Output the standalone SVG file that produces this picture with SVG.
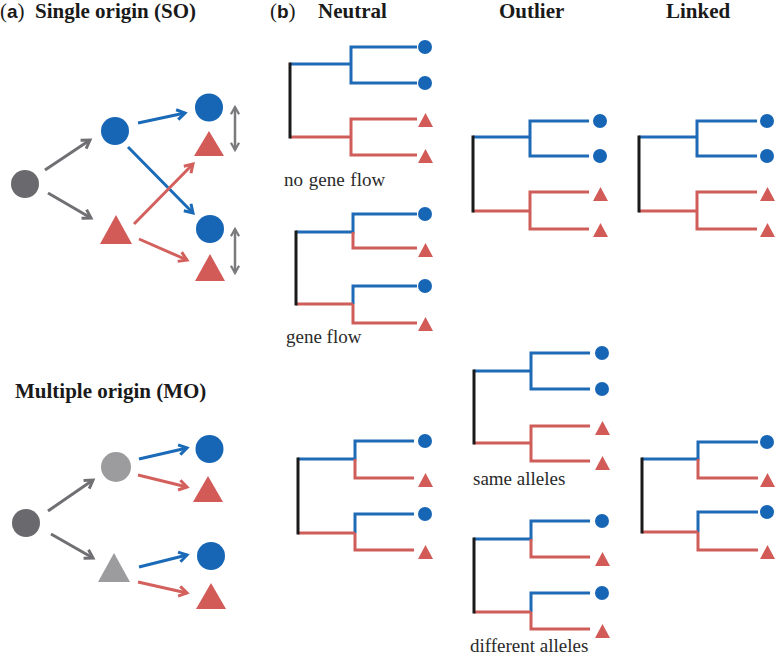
<svg xmlns="http://www.w3.org/2000/svg" width="778" height="657" viewBox="0 0 778 657">
<style>
.bl{fill:none;stroke:#1f6ab6;stroke-width:3;stroke-linejoin:miter}
.rd{fill:none;stroke:#cf5e5b;stroke-width:3;stroke-linejoin:miter}
.rt{fill:none;stroke:#1a1a1a;stroke-width:3}
.bc{fill:#1766b6}
.rtri{fill:#d25b58}
.dg{fill:#6a6a6e}
.lg{fill:#9c9c9f}
.ag{fill:none;stroke:#707074;stroke-width:3}
.ab{fill:none;stroke:#1a6ab8;stroke-width:3}
.ar{fill:none;stroke:#d3605c;stroke-width:3}
.dbl{fill:none;stroke:#7a7a7d;stroke-width:2.5}
</style>
<defs>
<marker id="mg" viewBox="0 0 10 10" refX="8" refY="5" markerWidth="10" markerHeight="10" markerUnits="userSpaceOnUse" orient="auto-start-reverse" overflow="visible"><path d="M0,0 L8,5 L0,10" fill="none" stroke="#707074" stroke-width="3"/></marker>
<marker id="md" viewBox="0 0 10 10" refX="8" refY="5" markerWidth="9" markerHeight="9" markerUnits="userSpaceOnUse" orient="auto-start-reverse" overflow="visible"><path d="M0,0.5 L8,5 L0,9.5" fill="none" stroke="#7a7a7d" stroke-width="2.5"/></marker>
<marker id="mb" viewBox="0 0 10 10" refX="8" refY="5" markerWidth="10" markerHeight="10" markerUnits="userSpaceOnUse" orient="auto" overflow="visible"><path d="M0,0 L8,5 L0,10" fill="none" stroke="#1a6ab8" stroke-width="3"/></marker>
<marker id="mr" viewBox="0 0 10 10" refX="8" refY="5" markerWidth="10" markerHeight="10" markerUnits="userSpaceOnUse" orient="auto" overflow="visible"><path d="M0,0 L8,5 L0,10" fill="none" stroke="#d3605c" stroke-width="3"/></marker>
</defs>
<rect width="778" height="657" fill="#ffffff"/>

<!-- headings -->
<g id="headings" fill="#1a1a1a">
<text x="0" y="18" font-size="21" font-family="Liberation Serif">(<tspan font-family="Liberation Sans" font-weight="bold" font-size="19">a</tspan>)</text>
<text x="35" y="18" font-size="21" font-weight="bold" font-family="Liberation Serif">Single origin (SO)</text>
<text x="270" y="18" font-size="21" font-family="Liberation Serif">(<tspan font-family="Liberation Sans" font-weight="bold" font-size="19">b</tspan>)</text>
<text x="318" y="18" font-size="21" font-weight="bold" font-family="Liberation Serif">Neutral</text>
<text x="499" y="18" font-size="21" font-weight="bold" font-family="Liberation Serif">Outlier</text>
<text x="666" y="18" font-size="21" font-weight="bold" font-family="Liberation Serif">Linked</text>
<text x="15" y="398" font-size="21" font-weight="bold" font-family="Liberation Serif">Multiple origin (MO)</text>
</g>

<!-- panel a: SO nodes -->
<g id="so-root"><circle class="dg" cx="25" cy="184" r="14"/></g>
<g id="so-blue"><circle class="bc" cx="115" cy="131" r="14"/></g>
<g id="so-red"><polygon class="rtri" points="116,215 132,244 100,244"/></g>
<g id="so-blue1"><circle class="bc" cx="209" cy="107.5" r="14"/></g>
<g id="so-red1"><polygon class="rtri" points="209,131 224,156 194,156"/></g>
<g id="so-blue2"><circle class="bc" cx="210" cy="229" r="14"/></g>
<g id="so-red2"><polygon class="rtri" points="210,254 225,281 195,281"/></g>

<!-- panel a: MO nodes -->
<g id="mo-root"><circle class="dg" cx="26" cy="523" r="14"/></g>
<g id="mo-gcirc"><circle class="lg" cx="116" cy="467" r="15"/></g>
<g id="mo-gtri"><polygon class="lg" points="114,553 130,582 98,582"/></g>
<g id="mo-blue1"><circle class="bc" cx="209.5" cy="449" r="14"/></g>
<g id="mo-red1"><polygon class="rtri" points="208,476 223,502 193,502"/></g>
<g id="mo-blue2"><circle class="bc" cx="211" cy="556" r="14"/></g>
<g id="mo-red2"><polygon class="rtri" points="211,583 226,609 196,609"/></g>

<!-- connectors -->
<g id="connectors">
<line class="ag" x1="45" y1="170" x2="90" y2="140" marker-end="url(#mg)"/>
<line class="ag" x1="48" y1="193" x2="91" y2="218" marker-end="url(#mg)"/>
<line class="ab" x1="138" y1="123" x2="185" y2="113" marker-end="url(#mb)"/>
<line class="ab" x1="128" y1="147" x2="193" y2="213" marker-end="url(#mb)"/>
<line class="ar" x1="134" y1="224" x2="193" y2="164" marker-end="url(#mr)"/>
<line class="ar" x1="139" y1="239" x2="187" y2="260" marker-end="url(#mr)"/>
<line class="dbl" x1="235" y1="107" x2="235" y2="150" marker-start="url(#md)" marker-end="url(#md)"/>
<line class="dbl" x1="235" y1="229" x2="235" y2="273" marker-start="url(#md)" marker-end="url(#md)"/>

<line class="ag" x1="48" y1="511" x2="93" y2="480" marker-end="url(#mg)"/>
<line class="ag" x1="51" y1="534" x2="93" y2="558" marker-end="url(#mg)"/>
<line class="ab" x1="139" y1="459" x2="187" y2="448" marker-end="url(#mb)"/>
<line class="ar" x1="138" y1="475" x2="187" y2="487" marker-end="url(#mr)"/>
<line class="ab" x1="139" y1="567" x2="187" y2="555" marker-end="url(#mb)"/>
<line class="ar" x1="138" y1="582" x2="187" y2="593" marker-end="url(#mr)"/>
</g>

<!-- Tree A: neutral, no gene flow -->
<g id="tree-neutral-nogeneflow">
<path class="bl" d="M417,47 H351 V83 H417 M351,64 H290"/>
<path class="rd" d="M417,119 H351 V155 H417 M351,137 H290"/>
<path class="rt" d="M290,62.5 V138.5"/>
<circle class="bc" cx="425" cy="47" r="7"/><circle class="bc" cx="425" cy="83" r="7"/>
<polygon class="rtri" points="425.5,113 433,127 418,127"/><polygon class="rtri" points="425.5,149 433,163 418,163"/>
<text x="284" y="186" font-size="19" word-spacing="1" fill="#2a2a2a" font-family="Liberation Serif">no gene flow</text>
</g>

<!-- Tree B: neutral, gene flow -->
<g id="tree-neutral-geneflow">
<path class="bl" d="M417,214 H353 V232 H296"/>
<path class="rd" d="M353,232 V248 H417"/>
<path class="bl" d="M417,286 H353 V304"/>
<path class="rd" d="M353,304 V323 H417 M353,304 H296"/>
<path class="rt" d="M296,230.5 V305.5"/>
<circle class="bc" cx="425" cy="214" r="7"/><circle class="bc" cx="425" cy="286" r="7"/>
<polygon class="rtri" points="425.5,243 433,257 418,257"/><polygon class="rtri" points="425.5,317 433,331 418,331"/>
<text x="286" y="343" font-size="19" fill="#2a2a2a" font-family="Liberation Serif">gene flow</text>
</g>

<!-- Tree C: outlier SO -->
<g id="tree-outlier-so">
<path class="bl" d="M589,121 H530 V156 H589 M530,137 H473"/>
<path class="rd" d="M589,192 H530 V229 H589 M530,211 H473"/>
<path class="rt" d="M473,135.5 V212.5"/>
<circle class="bc" cx="600" cy="121" r="7"/><circle class="bc" cx="600" cy="156" r="7"/>
<polygon class="rtri" points="600.5,187 608,201 593,201"/><polygon class="rtri" points="600.5,223 608,237 593,237"/>
</g>

<!-- Tree D: linked SO -->
<g id="tree-linked-so">
<path class="bl" d="M757,121 H697 V156 H757 M697,137 H639"/>
<path class="rd" d="M757,192 H697 V229 H757 M697,211 H639"/>
<path class="rt" d="M639,135.5 V212.5"/>
<circle class="bc" cx="767" cy="121" r="7"/><circle class="bc" cx="767" cy="156" r="7"/>
<polygon class="rtri" points="767.5,187 775,201 760,201"/><polygon class="rtri" points="767.5,223 775,237 760,237"/>
</g>

<!-- Tree E: neutral MO -->
<g id="tree-neutral-mo">
<path class="bl" d="M414,441 H355 V459 H298"/>
<path class="rd" d="M355,459 V478 H414"/>
<path class="bl" d="M414,514 H355 V533"/>
<path class="rd" d="M355,533 V550 H414 M355,533 H298"/>
<path class="rt" d="M298,457.5 V534.5"/>
<circle class="bc" cx="425" cy="441" r="7"/><circle class="bc" cx="425" cy="514" r="7"/>
<polygon class="rtri" points="425.5,473 433,487 418,487"/><polygon class="rtri" points="425.5,545 433,559 418,559"/>
</g>

<!-- Tree F: outlier MO same alleles -->
<g id="tree-outlier-same">
<path class="bl" d="M590,353 H531 V389 H590 M531,371 H474"/>
<path class="rd" d="M590,426 H531 V461 H590 M531,443 H474"/>
<path class="rt" d="M474,369.5 V444.5"/>
<circle class="bc" cx="602" cy="353" r="7"/><circle class="bc" cx="602" cy="389" r="7"/>
<polygon class="rtri" points="602.5,421 610,435 595,435"/><polygon class="rtri" points="602.5,456 610,470 595,470"/>
<text x="473" y="485" font-size="19" fill="#2a2a2a" font-family="Liberation Serif">same alleles</text>
</g>

<!-- Tree G: outlier MO different alleles -->
<g id="tree-outlier-different">
<path class="bl" d="M590,521 H531 V539 H474"/>
<path class="rd" d="M531,539 V557 H590"/>
<path class="bl" d="M590,593 H531 V612"/>
<path class="rd" d="M531,612 V629 H590 M531,612 H474"/>
<path class="rt" d="M474,537.5 V613.5"/>
<circle class="bc" cx="602" cy="521" r="7"/><circle class="bc" cx="602" cy="593" r="7"/>
<polygon class="rtri" points="602.5,552 610,566 595,566"/><polygon class="rtri" points="602.5,624 610,638 595,638"/>
<text x="470" y="652" font-size="19" fill="#2a2a2a" font-family="Liberation Serif">different alleles</text>
</g>

<!-- Tree H: linked MO -->
<g id="tree-linked-mo">
<path class="bl" d="M758,442 H698 V459 H642"/>
<path class="rd" d="M698,459 V478 H758"/>
<path class="bl" d="M758,512 H698 V532"/>
<path class="rd" d="M698,532 V550 H758 M698,532 H642"/>
<path class="rt" d="M642,457.5 V533.5"/>
<circle class="bc" cx="767" cy="442" r="7"/><circle class="bc" cx="767" cy="512" r="7"/>
<polygon class="rtri" points="767.5,473 775,487 760,487"/><polygon class="rtri" points="767.5,545 775,559 760,559"/>
</g>
</svg>
